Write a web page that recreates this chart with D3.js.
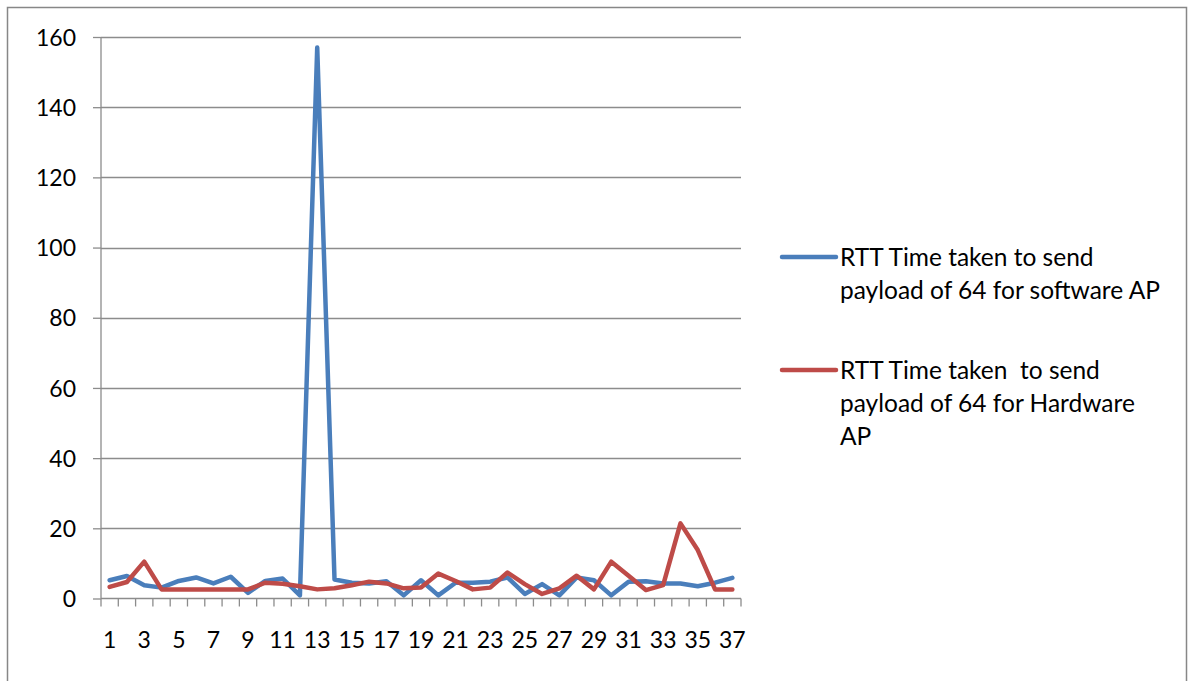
<!DOCTYPE html>
<html>
<head>
<meta charset="utf-8">
<script src="https://cdn.jsdelivr.net/npm/d3@7"></script>
<style>
  body { margin: 0; background: #fff; }
  text { font-family: Lato, "Open Sans", sans-serif; fill: #000; }
</style>
</head>
<body>
<div id="chart"></div>
<script>
// x categories 1..37
var categories = ["1","2","3","4","5","6","7","8","9","10","11","12","13","14","15","16","17","18","19",
    "20","21","22","23","24","25","26","27","28","29","30","31","32","33","34","35","36","37"];

var softwareAP = [5.2, 6.4, 3.8, 3.1, 5.0, 6.0, 4.3, 6.2, 1.6, 5.0, 5.7, 0.9, 157, 5.4, 4.5, 4.3, 4.9, 0.9, 5.2,
    0.9, 4.5, 4.5, 4.8, 6.0, 1.3, 4.1, 0.9, 6.0, 5.2, 0.9, 4.8, 4.9, 4.3, 4.3, 3.5, 4.5, 5.9];

var hardwareAP = [3.3, 4.7, 10.5, 2.6, 2.6, 2.6, 2.6, 2.6, 2.6, 4.5, 4.2, 3.5, 2.6, 2.9, 3.8, 4.8, 4.3, 2.9, 3.1,
    7.1, 5.0, 2.6, 3.1, 7.4, 4.1, 1.3, 2.9, 6.5, 2.6, 10.5, 6.5, 2.4, 3.8, 21.4, 13.8, 2.6, 2.6];

var yTicks = [0, 20, 40, 60, 80, 100, 120, 140, 160];

var seriesNames = [
    ["RTT Time taken to send", "payload of 64 for software AP"],
    ["RTT Time taken  to send", "payload of 64 for Hardware", "AP"]
];
var seriesColors = ["#4a7ebb", "#be4b48"];

var width = 1189, height = 681;
var margin = {top: 37, left: 101, right: 448, bottom: 82};

var svg = d3.select("#chart").append("svg")
    .attr("width", width)
    .attr("height", height);

// outer chart border
svg.append("rect")
    .attr("x", 7.5).attr("y", 7.5)
    .attr("width", 1179).attr("height", 690)
    .attr("fill", "none")
    .attr("stroke", "#878787")
    .attr("stroke-width", 1.5);

var xScale = d3.scaleBand()
    .domain(categories)
    .range([margin.left, width - margin.right]);

var yScale = d3.scaleLinear()
    .domain([0, 160])
    .range([height - margin.bottom - 0.5, margin.top]);

// gridlines
svg.append("g")
    .selectAll("line")
    .data(yTicks.filter(function(d) { return d > 0; }))
    .enter()
    .append("line")
    .attr("x1", margin.left)
    .attr("x2", width - margin.right)
    .attr("y1", function(d) { return Math.round(yScale(d)) + 0.5; })
    .attr("y2", function(d) { return Math.round(yScale(d)) + 0.5; })
    .attr("stroke", "#8c8c8c")
    .attr("stroke-width", 1.3);

// y axis
var yAxis = svg.append("g")
    .attr("transform", `translate(${margin.left}, 0)`)
    .call(d3.axisLeft(yScale).tickValues(yTicks).tickSize(8).tickPadding(17));
yAxis.selectAll("text").style("font-size", "23px").attr("dy", "0.35em");
yAxis.selectAll("line").attr("stroke", "#8c8c8c").attr("stroke-width", 1.3);
yAxis.select(".domain").attr("stroke", "#8c8c8c").attr("stroke-width", 1.3)
    .attr("d", `M0,${yScale(0)}V${margin.top}`);

// x axis
var xAxis = svg.append("g")
    .attr("transform", `translate(0, ${yScale(0)})`);
xAxis.append("line")
    .attr("x1", margin.left).attr("x2", width - margin.right)
    .attr("stroke", "#8c8c8c").attr("stroke-width", 1.3);
var boundaries = categories.map(function(c) { return xScale(c); }).concat([width - margin.right]);
xAxis.selectAll(".tick")
    .data(boundaries)
    .enter()
    .append("line")
    .attr("x1", function(d) { return d; })
    .attr("x2", function(d) { return d; })
    .attr("y1", 0).attr("y2", 8)
    .attr("stroke", "#8c8c8c").attr("stroke-width", 1.3);
xAxis.selectAll(".xlabel")
    .data(categories.filter(function(d, i) { return i % 2 === 0; }))
    .enter()
    .append("text")
    .attr("x", function(d) { return xScale(d) + xScale.bandwidth() / 2; })
    .attr("y", 49)
    .attr("text-anchor", "middle")
    .style("font-size", "23px")
    .text(function(d) { return d; });

// lines
var line = d3.line()
    .x(function(d, i) { return xScale(categories[i]) + xScale.bandwidth() / 2; })
    .y(function(d) { return yScale(d); });

[softwareAP, hardwareAP].forEach(function(values, k) {
    svg.append("path")
        .datum(values)
        .attr("d", line)
        .attr("fill", "none")
        .attr("stroke", seriesColors[k])
        .attr("stroke-width", 4.5)
        .attr("stroke-linejoin", "round")
        .attr("stroke-linecap", "round");
});

// legend
var legendY = [257, 370];
seriesNames.forEach(function(lines, k) {
    var g = svg.append("g").attr("transform", `translate(782, ${legendY[k]})`);
    g.append("line")
        .attr("x1", 0).attr("x2", 54)
        .attr("stroke", seriesColors[k])
        .attr("stroke-width", 4.5)
        .attr("stroke-linecap", "round");
    lines.forEach(function(t, j) {
        g.append("text")
            .attr("x", 58)
            .attr("y", j * 33)
            .attr("dy", "0.35em")
            .style("font-size", "24.5px")
            .style("white-space", "pre")
            .text(t);
    });
});
</script>
</body>
</html>
